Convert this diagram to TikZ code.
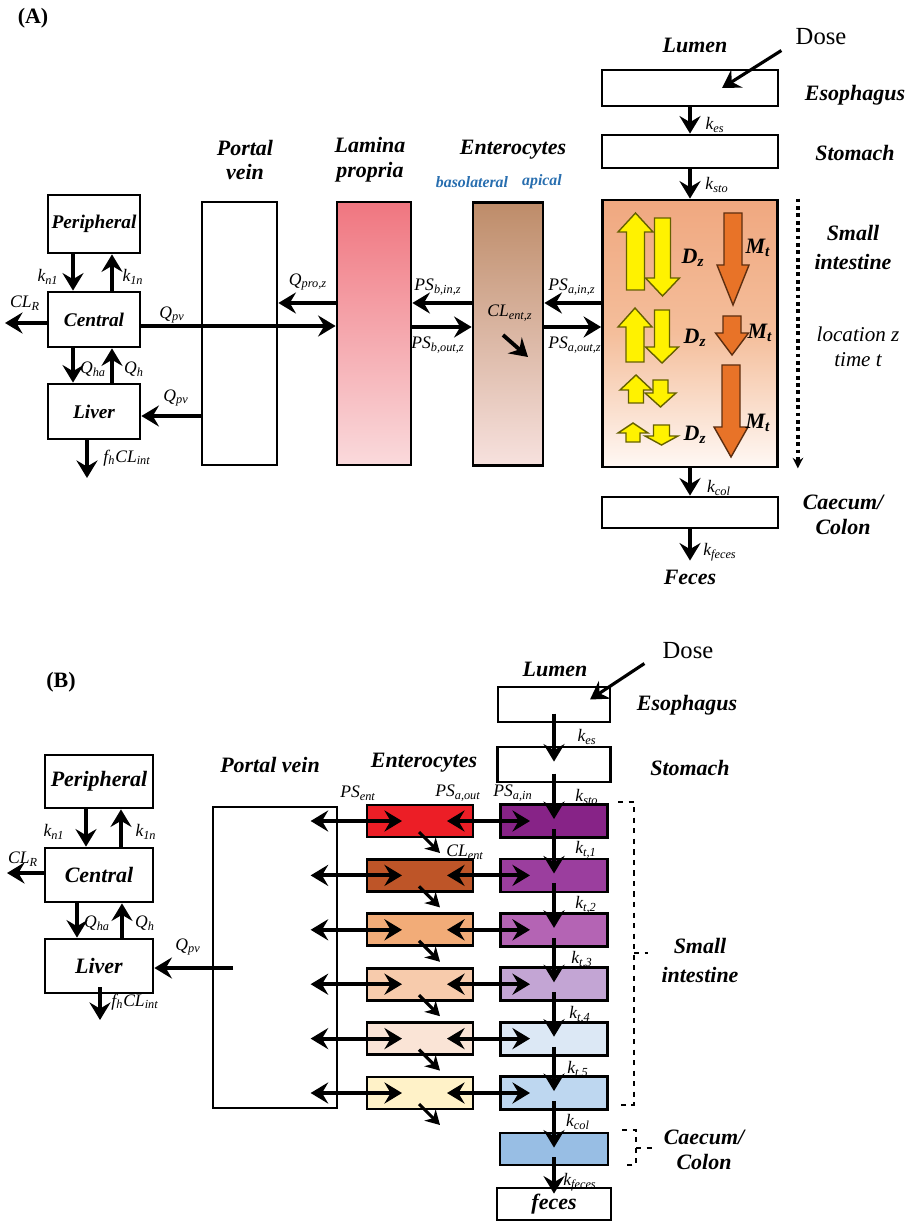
\documentclass[tikz,border=0pt]{standalone}
\usepackage{fontspec}
\setmainfont{Liberation Serif}
\usepackage{xcolor}
\usepackage{tikz}
\usetikzlibrary{arrows.meta,calc}

\definecolor{yel}{RGB}{255,242,0}
\definecolor{org}{RGB}{232,115,40}
\definecolor{apic}{RGB}{40,110,175}
\definecolor{lamtop}{RGB}{240,118,128}
\definecolor{lambot}{RGB}{250,218,220}
\definecolor{enttop}{RGB}{190,140,105}
\definecolor{entbot}{RGB}{247,225,222}
\definecolor{sitop}{RGB}{240,168,128}
\definecolor{simid}{RGB}{244,190,155}
\definecolor{sibot}{RGB}{255,248,244}
\definecolor{ea}{RGB}{236,30,38}
\definecolor{eb}{RGB}{190,85,40}
\definecolor{ec}{RGB}{242,172,120}
\definecolor{ed}{RGB}{247,203,172}
\definecolor{ee}{RGB}{250,228,214}
\definecolor{ef}{RGB}{255,242,200}
\definecolor{la}{RGB}{135,35,135}
\definecolor{lb}{RGB}{155,62,158}
\definecolor{lc}{RGB}{180,100,180}
\definecolor{ld}{RGB}{195,165,212}
\definecolor{le}{RGB}{220,232,245}
\definecolor{lf}{RGB}{190,215,240}
\definecolor{cae}{RGB}{152,190,228}

\newcommand{\blkarr}[7]{\filldraw[draw=black!60!#7, line width=0.8pt, fill=#7] (#1-#5,#2) -- (#1-#5,#3) -- (#1-#6,#3) -- (#1,#4) -- (#1+#6,#3) -- (#1+#5,#3) -- (#1+#5,#2) -- cycle;}

\begin{document}
\begin{tikzpicture}[x=0.02cm, y=-0.02cm, >={Stealth[length=10pt,width=12pt,inset=3.5pt]},
    block/.style={draw, line width=1.6pt, inner sep=0pt, font=\fontsize{11}{13}\selectfont\bfseries\itshape},
    bigblock/.style={block, font=\fontsize{12.5}{14}\selectfont\bfseries\itshape},
    entbox/.style={block, minimum width=2.12cm, minimum height=0.64cm},
    lumbox/.style={block, minimum width=2.14cm, minimum height=0.66cm},
    flow/.style={->, line width=2.2pt},
    twoway/.style={<->, line width=2.2pt},
    clflow/.style={->, line width=1.8pt, >={Stealth[length=8pt,width=9pt,inset=2.5pt]}},
    lbl/.style={font=\fontsize{10}{12}\selectfont\itshape, inner sep=0pt},
    ttl/.style={font=\fontsize{12.5}{14}\selectfont\bfseries\itshape, align=center, inner sep=0pt},
    dosefont/.style={font=\fontsize{14}{16}\selectfont, inner sep=0pt}]
    \useasboundingbox (0,0) rectangle (909,1222);

    \node[font=\fontsize{12.5}{14}\selectfont\bfseries] (tagA) at (33,18) {(A)};
    \node[block, minimum width=1.84cm, minimum height=1.16cm] (peri) at (94,224) {Peripheral};
    \node[block, minimum width=1.84cm, minimum height=1.1cm] (cent) at (94,319.5) {Central};
    \node[block, minimum width=1.84cm, minimum height=1.1cm] (liver) at (94,411.5) {Liver};
    \node[block, minimum width=1.5cm, minimum height=5.26cm] (pv) at (239.5,333.5) {};
    \node[block, minimum width=1.48cm, minimum height=5.26cm, top color=lamtop, bottom color=lambot] (lam) at (374,333.5) {};
    \node[block, minimum width=1.4cm, minimum height=5.26cm, top color=enttop, bottom color=entbot] (ent) at (508,334) {};
    \node[block, minimum width=3.52cm, minimum height=0.72cm] (eso) at (690,88) {};
    \node[block, minimum width=3.52cm, minimum height=0.66cm] (sto) at (690,151.5) {};
    \node[block, minimum width=3.5cm, minimum height=5.34cm, top color=sitop, bottom color=sibot, middle color=simid] (si) at (690,333.5) {};
    \node[block, minimum width=3.52cm, minimum height=0.62cm] (col) at (690,512.5) {};

    \node[ttl] (pvt) at (245,160) {Portal\\vein};
    \node[ttl] (lamt) at (370,160) {Lamina\\propria};
    \node[ttl] (entt) at (513,150) {Enterocytes};
    \node[ttl, font=\fontsize{9}{11}\selectfont\bfseries\itshape, text=apic] (baso) at (472,182) {basolateral};
    \node[ttl, font=\fontsize{9}{11}\selectfont\bfseries\itshape, text=apic] (api) at (542,182) {apical};
    \node[ttl] (lum) at (695,45) {Lumen};
    \node[dosefont] (dose) at (821,37) {Dose};
    \node[ttl] (esot) at (855,95) {Esophagus};
    \node[ttl] (stot) at (855,153) {Stomach};
    \node[ttl, font=\fontsize{12.5}{16.5}\selectfont\bfseries\itshape] (sit) at (853,247) {Small\\intestine};
    \node[font=\fontsize{12}{14}\selectfont\itshape, align=center, inner sep=0pt] (loc) at (858,347) {location z\\time t};
    \node[ttl] (colt) at (843,515) {Caecum/\\Colon};
    \node[ttl] (fec) at (690,577) {Feces};

    \blkarr{635.5}{290}{232}{213}{9}{17.5}{yel}
    \blkarr{662.5}{218}{278}{296}{8}{17}{yel}
    \blkarr{635}{362}{327}{308}{9}{17}{yel}
    \blkarr{662}{310}{347}{363}{7.5}{16.5}{yel}
    \blkarr{636}{403}{390}{375}{7.5}{16}{yel}
    \blkarr{660.5}{380}{393}{407}{7.5}{15.5}{yel}
    \blkarr{633}{442}{433}{423}{7}{15}{yel}
    \blkarr{661.5}{425}{436}{445}{8}{16.5}{yel}
    \blkarr{733}{213}{265}{305}{9}{16}{org}
    \blkarr{732}{316}{333}{355}{9}{16.5}{org}
    \blkarr{731}{365}{427}{457}{9}{17}{org}
    \node[ttl] (dz1) at (693,258) {D\textsubscript{z}};
    \node[ttl] (dz2) at (695,338) {D\textsubscript{z}};
    \node[ttl] (dz3) at (695,435) {D\textsubscript{z}};
    \node[ttl] (mt1) at (758,248) {M\textsubscript{t}};
    \node[ttl] (mt2) at (760,333) {M\textsubscript{t}};
    \node[ttl] (mt3) at (758,423) {M\textsubscript{t}};

    \coordinate (clrA) at (5,323);
    \coordinate (fhA) at (87,478);
    \draw[flow] ([xshift=-0.42cm]peri.south) -- ([xshift=-0.42cm]cent.north);
    \draw[flow] ([xshift=0.36cm]cent.north) -- ([xshift=0.36cm]peri.south);
    \draw[flow] ([xshift=-0.42cm]cent.south) -- ([xshift=-0.42cm]liver.north);
    \draw[flow] ([xshift=0.36cm]liver.north) -- ([xshift=0.36cm]cent.south);
    \draw[flow] (cent.west |- clrA) -- (clrA);
    \draw[flow] (liver.south -| fhA) -- (fhA);
    \draw[flow] (cent.east |- 0,326) -- (lam.west |- 0,326);
    \draw[flow] (pv.west |- 0,416) -- (liver.east |- 0,416);
    \draw[flow] (lam.west |- 0,303) -- (pv.east |- 0,303);
    \draw[flow] (ent.west |- 0,303) -- (lam.east |- 0,303);
    \draw[flow] (lam.east |- 0,327) -- (ent.west |- 0,327);
    \draw[flow] (si.west |- 0,303) -- (ent.east |- 0,303);
    \draw[flow] (ent.east |- 0,327) -- (si.west |- 0,327);
    \draw[flow] ($(ent.center)+(-5,1)$) -- ($(ent.center)+(20,23)$);
    \draw[flow, line width=1.8pt] ($(dose.south west)+(-14,5)$) -- ($(eso.center)+(32,0)$);
    \draw[flow] (eso.south) -- (sto.north);
    \draw[flow] (sto.south) -- (si.north);
    \draw[flow] (si.south) -- (col.north);
    \draw[flow, shorten >=5pt] (col.south) -- (fec.north);
    \draw[dotted, line width=2.2pt, -{Stealth[length=6pt,width=6pt]}] ([xshift=0.38cm]si.north east) -- ([xshift=0.38cm]si.south east);

    \node[lbl] (kn1a) at (48,277) {k\textsubscript{n1}};
    \node[lbl] (k1na) at (133,277) {k\textsubscript{1n}};
    \node[lbl] (clra) at (25,303) {CL\textsubscript{R}};
    \node[lbl] (qpva) at (172,315) {Q\textsubscript{pv}};
    \node[lbl] (qhaa) at (93,369) {Q\textsubscript{ha}};
    \node[lbl] (qha) at (134,369) {Q\textsubscript{h}};
    \node[lbl] (qpvl) at (176,398) {Q\textsubscript{pv}};
    \node[lbl] (fha) at (127,458) {f\textsubscript{h}CL\textsubscript{int}};
    \node[lbl] (qpro) at (308,282) {Q\textsubscript{pro,z}};
    \node[lbl] (psbin) at (438,287) {PS\textsubscript{b,in,z}};
    \node[lbl] (psbout) at (438,345) {PS\textsubscript{b,out,z}};
    \node[lbl] (clent) at (510,313) {CL\textsubscript{ent,z}};
    \node[lbl] (psain) at (572,287) {PS\textsubscript{a,in,z}};
    \node[lbl] (psaout) at (575,345) {PS\textsubscript{a,out,z}};
    \node[lbl] (kes) at (715,125) {k\textsubscript{es}};
    \node[lbl] (ksto) at (717,185) {k\textsubscript{sto}};
    \node[lbl] (kcol) at (719,488) {k\textsubscript{col}};
    \node[lbl] (kfec) at (720,552) {k\textsubscript{feces}};

    \node[font=\fontsize{12.5}{14}\selectfont\bfseries] (tagB) at (61,682) {(B)};
    \node[bigblock, minimum width=2.16cm, minimum height=1.06cm] (perib) at (99,781.5) {Peripheral};
    \node[bigblock, minimum width=2.16cm, minimum height=1.08cm] (centb) at (99,875) {Central};
    \node[bigblock, minimum width=2.16cm, minimum height=1.08cm] (liverb) at (99,966) {Liver};
    \node[block, line width=1.2pt, minimum width=2.48cm, minimum height=6.02cm] (pvb) at (275,957.5) {};
    \node[entbox, fill=ea] (e1) at (420,821) {};
    \node[entbox, fill=eb] (e2) at (420,875.4) {};
    \node[entbox, fill=ec] (e3) at (420,929.8) {};
    \node[entbox, fill=ed] (e4) at (420,984.2) {};
    \node[entbox, fill=ee] (e5) at (420,1038.6) {};
    \node[entbox, fill=ef] (e6) at (420,1093) {};
    \node[block, minimum width=2.24cm, minimum height=0.7cm] (esob) at (554,704.5) {};
    \node[block, minimum width=2.26cm, minimum height=0.7cm] (stob) at (554,764.5) {};
    \node[lumbox, fill=la] (l1) at (554,821) {};
    \node[lumbox, fill=lb] (l2) at (554,875.4) {};
    \node[lumbox, fill=lc] (l3) at (554,929.8) {};
    \node[lumbox, fill=ld] (l4) at (554,984.2) {};
    \node[lumbox, fill=le] (l5) at (554,1038.6) {};
    \node[lumbox, fill=lf] (l6) at (554,1093) {};
    \node[block, fill=cae, minimum width=2.16cm, minimum height=0.64cm] (caeb) at (554,1149) {};
    \node[bigblock, minimum width=2.28cm, minimum height=0.64cm] (fecb) at (554,1204) {feces};

    \node[ttl] (lumb) at (555,669) {Lumen};
    \node[dosefont] (doseb) at (688,651) {Dose};
    \node[ttl] (esobt) at (687,705) {Esophagus};
    \node[ttl] (stobt) at (690,768) {Stomach};
    \node[ttl, font=\fontsize{12.5}{16.5}\selectfont\bfseries\itshape] (sibt) at (700,960) {Small\\intestine};
    \node[ttl] (caet) at (704,1150) {Caecum/\\Colon};
    \node[ttl] (pvbt) at (270,765) {Portal vein};
    \node[ttl] (entbt) at (424,763) {Enterocytes};

    \coordinate (clrB) at (7,873);
    \coordinate (fhB) at (100,1020);
    \coordinate (qpvB) at (233,968);
    \draw[flow] ([xshift=-0.26cm]perib.south) -- ([xshift=-0.26cm]centb.north);
    \draw[flow] ([xshift=0.44cm]centb.north) -- ([xshift=0.44cm]perib.south);
    \draw[flow] ([xshift=-0.44cm]centb.south) -- ([xshift=-0.44cm]liverb.north);
    \draw[flow] ([xshift=0.46cm]liverb.north) -- ([xshift=0.46cm]centb.south);
    \draw[flow] (centb.west |- clrB) -- (clrB);
    \draw[flow] ([xshift=0.02cm,yshift=-0.42cm]liverb.center) -- (fhB);
    \draw[flow] (qpvB) -- (liverb.east |- qpvB);

    \draw[flow, line width=1.8pt] ($(doseb.south west)+(-18,4)$) -- ($(esob.center)+(36,-5)$);
    \draw[flow] ([yshift=-0.18cm]esob.center) -- ([yshift=-0.32cm]stob.north);
    \draw[flow] ([yshift=-0.18cm]stob.center) -- ([yshift=-0.32cm]l1.north);
    \draw[flow] ([yshift=-0.16cm]l1.center) -- ([yshift=-0.32cm]l2.north);
    \draw[flow] ([yshift=-0.16cm]l2.center) -- ([yshift=-0.32cm]l3.north);
    \draw[flow] ([yshift=-0.16cm]l3.center) -- ([yshift=-0.32cm]l4.north);
    \draw[flow] ([yshift=-0.16cm]l4.center) -- ([yshift=-0.32cm]l5.north);
    \draw[flow] ([yshift=-0.16cm]l5.center) -- ([yshift=-0.32cm]l6.north);
    \draw[flow] ([yshift=-0.16cm]l6.center) -- ([yshift=-0.32cm]caeb.north);
    \draw[flow] ([yshift=-0.16cm]caeb.center) -- ([yshift=-0.14cm]fecb.north);

    \draw[twoway] ([xshift=-1.1cm]e1.west) -- ([xshift=-0.36cm]e1.center);
    \draw[twoway] ([xshift=0.54cm]e1.center) -- ([xshift=-0.48cm]l1.center);
    \draw[twoway] ([xshift=-1.1cm]e2.west) -- ([xshift=-0.36cm]e2.center);
    \draw[twoway] ([xshift=0.54cm]e2.center) -- ([xshift=-0.48cm]l2.center);
    \draw[twoway] ([xshift=-1.1cm]e3.west) -- ([xshift=-0.36cm]e3.center);
    \draw[twoway] ([xshift=0.54cm]e3.center) -- ([xshift=-0.48cm]l3.center);
    \draw[twoway] ([xshift=-1.1cm]e4.west) -- ([xshift=-0.36cm]e4.center);
    \draw[twoway] ([xshift=0.54cm]e4.center) -- ([xshift=-0.48cm]l4.center);
    \draw[twoway] ([xshift=-1.1cm]e5.west) -- ([xshift=-0.36cm]e5.center);
    \draw[twoway] ([xshift=0.54cm]e5.center) -- ([xshift=-0.48cm]l5.center);
    \draw[twoway] ([xshift=-1.1cm]e6.west) -- ([xshift=-0.36cm]e6.center);
    \draw[twoway] ([xshift=0.54cm]e6.center) -- ([xshift=-0.48cm]l6.center);

    \draw[clflow] ([shift={(-1,11)}]e1.center) -- ([shift={(20,32)}]e1.center);
    \draw[clflow] ([shift={(-1,11)}]e2.center) -- ([shift={(20,32)}]e2.center);
    \draw[clflow] ([shift={(-1,11)}]e3.center) -- ([shift={(20,32)}]e3.center);
    \draw[clflow] ([shift={(-1,11)}]e4.center) -- ([shift={(20,32)}]e4.center);
    \draw[clflow] ([shift={(-1,11)}]e5.center) -- ([shift={(20,32)}]e5.center);
    \draw[clflow] ([shift={(-1,11)}]e6.center) -- ([shift={(20,32)}]e6.center);

    \draw[dashed, line width=1.5pt] (618,802) -- (634,802) -- (634,1105) -- (618,1105);
    \draw[dashed, line width=1.5pt] (634,953) -- (648,953);
    \draw[dashed, line width=1.5pt] (622,1130) -- (636,1130) -- (636,1165) -- (622,1165);
    \draw[dashed, line width=1.5pt] (636,1148) -- (652,1148);

    \node[lbl] (kn1b) at (54,832) {k\textsubscript{n1}};
    \node[lbl] (k1nb) at (146,832) {k\textsubscript{1n}};
    \node[lbl] (clrb) at (23,859) {CL\textsubscript{R}};
    \node[lbl] (qhab) at (97,923) {Q\textsubscript{ha}};
    \node[lbl] (qhb) at (145,923) {Q\textsubscript{h}};
    \node[lbl] (qpvb) at (188,947) {Q\textsubscript{pv}};
    \node[lbl] (fhb) at (135,1002) {f\textsubscript{h}CL\textsubscript{int}};
    \node[lbl] (psent) at (358,793) {PS\textsubscript{ent}};
    \node[lbl] (psaoutb) at (458,793) {PS\textsubscript{a,out}};
    \node[lbl] (psainb) at (513,793) {PS\textsubscript{a,in}};
    \node[lbl] (clentb) at (465,852) {CL\textsubscript{ent}};
    \node[lbl] (kesb) at (587,737) {k\textsubscript{es}};
    \node[lbl] (kstob) at (587,797) {k\textsubscript{sto}};
    \node[lbl] (kt1) at (586,850) {k\textsubscript{t,1}};
    \node[lbl] (kt2) at (586,905) {k\textsubscript{t,2}};
    \node[lbl] (kt3) at (582,960) {k\textsubscript{t,3}};
    \node[lbl] (kt4) at (580,1015) {k\textsubscript{t,4}};
    \node[lbl] (kt5) at (578,1070) {k\textsubscript{t,5}};
    \node[lbl] (kcolb) at (578,1122) {k\textsubscript{col}};
    \node[lbl] (kfecb) at (580,1182) {k\textsubscript{feces}};
\end{tikzpicture}
\end{document}
